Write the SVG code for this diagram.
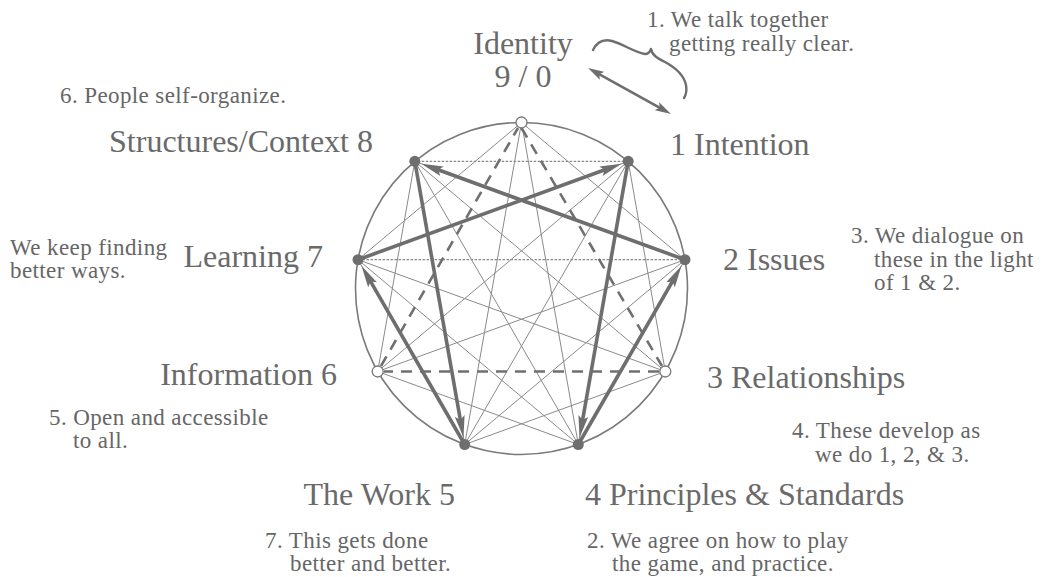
<svg xmlns="http://www.w3.org/2000/svg" width="1050" height="577" viewBox="0 0 1050 577">
<style>
.lbl{font-family:"Liberation Serif","Times New Roman",serif;font-size:32px;fill:#6a6a6a}
.note{font-family:"Liberation Serif","Times New Roman",serif;font-size:23px;letter-spacing:0.4px;fill:#666}
.thin{stroke:#8a8a8a;stroke-width:1;fill:none}
.dot{stroke:#8a8a8a;stroke-width:1.3;stroke-dasharray:2.5 1.5;fill:none}
.hex{stroke:#6e6e6e;stroke-width:3.6;fill:none;marker-end:url(#ah)}
.tri{stroke:#707070;stroke-width:2.6;stroke-dasharray:11 8;fill:none}
.full{fill:#6e6e6e}
.open{fill:#fff;stroke:#777;stroke-width:1.3}
</style>
<defs>
<marker id="ah" markerUnits="userSpaceOnUse" markerWidth="24" markerHeight="12" refX="10" refY="5" orient="auto"><path d="M0,0 L22,5 L0,10 L4,5 Z" fill="#6e6e6e"/></marker>
<marker id="ah2" markerUnits="userSpaceOnUse" markerWidth="18" markerHeight="10" refX="8" refY="4.5" orient="auto-start-reverse"><path d="M0,0 L16,4.5 L0,9 L3,4.5 Z" fill="#6e6e6e"/></marker>
</defs>
<rect width="1050" height="577" fill="#fff"/>
<circle cx="521.5" cy="288.5" r="166" fill="none" stroke="#7a7a7a" stroke-width="1.6"/>
<g id="connectors">
<line class="thin" x1="521.5" y1="122.5" x2="685" y2="259.7"/>
<line class="thin" x1="521.5" y1="122.5" x2="578.3" y2="444.5"/>
<line class="thin" x1="521.5" y1="122.5" x2="464.7" y2="444.5"/>
<line class="thin" x1="521.5" y1="122.5" x2="358" y2="259.7"/>
<line class="thin" x1="628.2" y1="161.3" x2="665.3" y2="371.5"/>
<line class="thin" x1="628.2" y1="161.3" x2="464.7" y2="444.5"/>
<line class="thin" x1="628.2" y1="161.3" x2="377.7" y2="371.5"/>
<line class="dot" x1="628.2" y1="161.3" x2="414.8" y2="161.3"/>
<line class="thin" x1="685" y1="259.7" x2="464.7" y2="444.5"/>
<line class="thin" x1="685" y1="259.7" x2="377.7" y2="371.5"/>
<line class="dot" x1="685" y1="259.7" x2="358" y2="259.7"/>
<line class="thin" x1="665.3" y1="371.5" x2="464.7" y2="444.5"/>
<line class="thin" x1="665.3" y1="371.5" x2="358" y2="259.7"/>
<line class="thin" x1="665.3" y1="371.5" x2="414.8" y2="161.3"/>
<line class="thin" x1="578.3" y1="444.5" x2="377.7" y2="371.5"/>
<line class="thin" x1="578.3" y1="444.5" x2="358" y2="259.7"/>
<line class="thin" x1="578.3" y1="444.5" x2="414.8" y2="161.3"/>
<line class="thin" x1="464.7" y1="444.5" x2="414.8" y2="161.3"/>
<line class="thin" x1="377.7" y1="371.5" x2="414.8" y2="161.3"/>
<line class="thin" x1="628.2" y1="161.3" x2="358" y2="259.7"/>
<line class="thin" x1="414.8" y1="161.3" x2="685" y2="259.7"/>
<line class="thin" x1="628.2" y1="161.3" x2="578.3" y2="444.5"/>
<line class="thin" x1="685" y1="259.7" x2="578.3" y2="444.5"/>
<line class="thin" x1="358" y1="259.7" x2="464.7" y2="444.5"/>
<line class="tri" x1="521.5" y1="128" x2="662" y2="366"/>
<line class="tri" x1="659" y1="371.5" x2="384" y2="371.5"/>
<line class="tri" x1="381" y1="366" x2="518" y2="128"/>
<line class="hex" x1="628.2" y1="161.3" x2="581.6" y2="425.8"/>
<line class="hex" x1="578.3" y1="444.5" x2="675.5" y2="276.2"/>
<line class="hex" x1="685" y1="259.7" x2="432.6" y2="167.8"/>
<line class="hex" x1="414.8" y1="161.3" x2="461.4" y2="425.8"/>
<line class="hex" x1="464.7" y1="444.5" x2="367.5" y2="276.2"/>
<line class="hex" x1="358" y1="259.7" x2="610.3" y2="167.8"/>
<line x1="595" y1="71.9" x2="664" y2="110.1" stroke="#6e6e6e" stroke-width="2.6" marker-start="url(#ah2)" marker-end="url(#ah2)"/>
<path d="M593,50 C597,42 604,39 612,41 C623,44 636,53 645,54 C648,54 650,52 651,49 C652,55 657,58 665,62 C676,68 684,75 686,85 C687,91 686,95 684,98" fill="none" stroke="#6e6e6e" stroke-width="2.4" stroke-linecap="round" stroke-linejoin="round"/>
</g>
<g id="n9"><circle class="open" cx="521.5" cy="122.5" r="5.5"/><text class="lbl" x="523" y="54" text-anchor="middle">Identity</text><text class="lbl" x="523" y="87" text-anchor="middle">9 / 0</text></g>
<g id="n1"><circle class="full" cx="628.2" cy="161.3" r="5.5"/><text class="lbl" x="670" y="155">1 Intention</text></g>
<g id="n2"><circle class="full" cx="685" cy="259.7" r="5.5"/><text class="lbl" x="723" y="270">2 Issues</text></g>
<g id="n3"><circle class="open" cx="665.3" cy="371.5" r="5.5"/><text class="lbl" x="707" y="388">3 Relationships</text></g>
<g id="n4"><circle class="full" cx="578.3" cy="444.5" r="5.5"/><text class="lbl" x="585" y="505">4 Principles &amp; Standards</text></g>
<g id="n5"><circle class="full" cx="464.7" cy="444.5" r="5.5"/><text class="lbl" x="455" y="505" text-anchor="end">The Work 5</text></g>
<g id="n6"><circle class="open" cx="377.7" cy="371.5" r="5.5"/><text class="lbl" x="337" y="385" text-anchor="end">Information 6</text></g>
<g id="n7"><circle class="full" cx="358" cy="259.7" r="5.5"/><text class="lbl" x="323" y="267" text-anchor="end">Learning 7</text></g>
<g id="n8"><circle class="full" cx="414.8" cy="161.3" r="5.5"/><text class="lbl" x="373" y="152" text-anchor="end">Structures/Context 8</text></g>
<g id="notes">
<text class="note" x="647" y="27">1. We talk together</text>
<text class="note" x="669" y="51">getting really clear.</text>
<text class="note" x="60" y="103">6. People self-organize.</text>
<text class="note" x="10" y="255">We keep finding</text>
<text class="note" x="10" y="278">better ways.</text>
<text class="note" x="851" y="243">3. We dialogue on</text>
<text class="note" x="874" y="267">these in the light</text>
<text class="note" x="874" y="290">of 1 &amp; 2.</text>
<text class="note" x="49" y="425">5. Open and accessible</text>
<text class="note" x="73" y="448">to all.</text>
<text class="note" x="792" y="438">4. These develop as</text>
<text class="note" x="815" y="462">we do 1, 2, &amp; 3.</text>
<text class="note" x="265" y="548">7. This gets done</text>
<text class="note" x="290" y="571">better and better.</text>
<text class="note" x="587" y="548">2. We agree on how to play</text>
<text class="note" x="612" y="571">the game, and practice.</text>
</g>
</svg>
